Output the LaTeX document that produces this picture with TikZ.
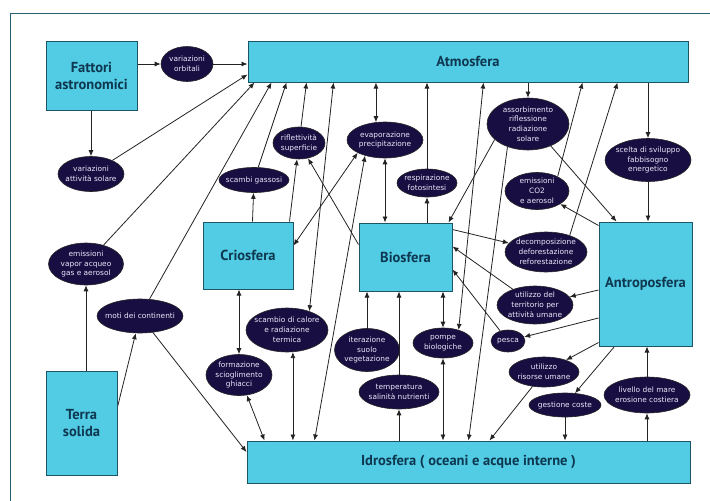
\documentclass[tikz,border=0pt]{standalone}
\usepackage{fontspec}
\setmainfont{PT Sans}
\newfontfamily\ellfont{DejaVu Sans}
\usetikzlibrary{shapes.geometric,arrows.meta,backgrounds}
\definecolor{boxfill}{RGB}{82,204,228}
\definecolor{boxline}{RGB}{30,85,100}
\definecolor{boxtext}{RGB}{14,55,80}
\definecolor{ellfill}{RGB}{24,14,66}
\definecolor{elltext}{RGB}{235,232,250}
\definecolor{conn}{RGB}{35,35,35}
\definecolor{framecol}{RGB}{40,95,110}
\tikzset{
 sphere/.style={draw=boxline, line width=1pt, fill=boxfill, inner sep=0pt, text=boxtext,
   font=\fontsize{14.5}{17}\selectfont\bfseries, align=center},
 proc/.style={ellipse, draw=black!85, line width=0.6pt, fill=ellfill, inner sep=0pt},
 proctext/.style={text=elltext, font=\ellfont\fontsize{7.4}{9.8}\selectfont, align=center, inner sep=0pt},
 link/.style={draw=conn, line width=0.8pt, -{Latex[length=6pt,width=5pt]}},
 link2/.style={draw=conn, line width=0.8pt, {Latex[length=6pt,width=5pt]}-{Latex[length=6pt,width=5pt]}},
}
\begin{document}
\begin{tikzpicture}[x=1pt,y=-1pt]
\useasboundingbox (0,0) rectangle (710,501);
% spheres
\node[sphere, minimum width=91pt, minimum height=69pt] (fa) at (91.5,75.5) {Fattori\\astronomici};
\node[sphere, minimum width=440pt, minimum height=41pt] (atm) at (468,61.5) {Atmosfera};
\node[sphere, minimum width=90pt, minimum height=67pt] (crio) at (248,255.5) {Criosfera};
\node[sphere, minimum width=93pt, minimum height=68pt] (bio) at (405.5,257) {Biosfera};
\node[sphere, minimum width=93pt, minimum height=124pt] (antro) at (645.5,284) {Antroposfera};
\node[sphere, minimum width=71pt, minimum height=104pt] (terra) at (81.5,423) {Terra\\solida};
\node[sphere, minimum width=443pt, minimum height=42pt] (idro) at (468.5,462) {Idrosfera ( oceani e acque interne )};
% processes
\node[proc, minimum width=52pt, minimum height=35pt] (orb) at (187,64) {};
\node[proctext] (orb-t) at (orb) {variazioni\\orbitali};
\node[proc, minimum width=66pt, minimum height=35pt] (sol) at (91,174) {};
\node[proctext] (sol-t) at (sol) {variazioni\\attività solare};
\node[proc, minimum width=52pt, minimum height=32pt] (rifl) at (299,143) {};
\node[proctext] (rifl-t) at (rifl) {riflettività\\superficie};
\node[proc, minimum width=70pt, minimum height=25pt] (gas) at (254,180) {};
\node[proctext] (gas-t) at (gas) {scambi gassosi};
\node[proc, minimum width=76pt, minimum height=36pt] (evap) at (385,140) {};
\node[proctext] (evap-t) at (evap) {evaporazione\\precipitazione};
\node[proc, minimum width=60pt, minimum height=28pt] (resp) at (427,183) {};
\node[proctext] (resp-t) at (resp) {respirazione\\fotosintesi};
\node[proc, minimum width=82pt, minimum height=52pt] (ass) at (528,124) {};
\node[proctext] (ass-t) at (ass) {assorbimento\\riflessione\\radiazione\\solare};
\node[proc, minimum width=86pt, minimum height=43pt] (scelta) at (648,160) {};
\node[proctext] (scelta-t) at (scelta) {scelta di sviluppo\\fabbisogno\\energetico};
\node[proc, minimum width=64pt, minimum height=37pt] (co2) at (537,191) {};
\node[proctext] (co2-t) at (co2) {emissioni\\CO2\\e aerosol};
\node[proc, minimum width=82pt, minimum height=40pt] (dec) at (546,252) {};
\node[proctext] (dec-t) at (dec) {decomposizione\\deforestazione\\reforestazione};
\node[proc, minimum width=76pt, minimum height=38pt] (terr) at (535,305) {};
\node[proctext] (terr-t) at (terr) {utilizzo del\\territorio per\\attività umane};
\node[proc, minimum width=34pt, minimum height=22pt] (pesca) at (508,341) {};
\node[proctext] (pesca-t) at (pesca) {pesca};
\node[proc, minimum width=70pt, minimum height=30pt] (ris) at (544,372) {};
\node[proctext] (ris-t) at (ris) {utilizzo\\risorse umane};
\node[proc, minimum width=72pt, minimum height=24pt] (coste) at (565,405) {};
\node[proctext] (coste-t) at (coste) {gestione coste};
\node[proc, minimum width=86pt, minimum height=36pt] (mare) at (647,395) {};
\node[proctext] (mare-t) at (mare) {livello del mare\\erosione costiera};
\node[proc, minimum width=60pt, minimum height=30pt] (pompe) at (443,343) {};
\node[proctext] (pompe-t) at (pompe) {pompe\\biologiche};
\node[proc, minimum width=80pt, minimum height=34pt] (temp) at (399,392) {};
\node[proctext] (temp-t) at (temp) {temperatura\\salinità nutrienti};
\node[proc, minimum width=65pt, minimum height=43pt] (iter) at (367,350) {};
\node[proctext] (iter-t) at (iter) {iterazione\\suolo\\vegetazione};
\node[proc, minimum width=82pt, minimum height=44pt] (calore) at (287,330) {};
\node[proctext] (calore-t) at (calore) {scambio di calore\\e radiazione\\termica};
\node[proc, minimum width=66pt, minimum height=41pt] (ghiac) at (239,375) {};
\node[proctext] (ghiac-t) at (ghiac) {formazione\\scioglimento\\ghiacci};
\node[proc, minimum width=86pt, minimum height=34pt] (moti) at (140,316) {};
\node[proctext] (moti-t) at (moti) {moti dei continenti};
\node[proc, minimum width=75pt, minimum height=42pt] (vap) at (86,264) {};
\node[proctext] (vap-t) at (vap) {emissioni\\vapor acqueo\\gas e aerosol};
\begin{pgfonlayer}{background}
\fill[white] (0,0) rectangle (710,501);
\draw[framecol, line width=0.8pt] (10.5,501) -- (10.5,13) -- (710,13);
% astronomical
\draw[link] (fa.east |- orb) -- (orb);
\draw[link] (orb) -- (atm.west |- orb);
\draw[link] (fa.south -| sol) -- (sol);
\draw[link] (sol) -- ([yshift=8pt]atm.south west);
% into atmosphere
\draw[link] (vap) -- ([xshift=7pt]atm.south west);
\draw[link] (moti) -- ([xshift=24pt]atm.south west);
\draw[link] (gas) -- ([xshift=39pt]atm.south west);
\draw[link] (rifl) -- ([xshift=59pt]atm.south west);
\draw[link2] ([xshift=86pt]atm.south west) -- (calore.40);
\draw[link2] (evap.117) -- (evap.117 |- atm.south);
\draw[link] (resp.north) -- (resp.north |- atm.south);
\draw[link2] ([xshift=236pt]atm.south west) -- (pompe.40);
\draw[link] (ass.north |- atm.south) -- (ass.north);
\draw[link] (co2.35) -- ([xshift=335pt]atm.south west);
\draw[link] (dec.35) -- ([xshift=370pt]atm.south west);
\draw[link] (scelta.north |- atm.south) -- (scelta.north);
\draw[link] (scelta.south) -- (scelta.south |- antro.north);
% solid earth
\draw[link] (terra.north -| vap) -- (vap);
\draw[link] ([yshift=16pt]terra.east) -- (moti);
\draw[link] (moti) -- ([yshift=10pt]idro.west);
% cryosphere
\draw[link] ([xshift=50pt]crio.north west) -- (gas);
\draw[link] ([xshift=87pt]crio.north west) -- (rifl);
\draw[link2] (evap.205) -- ([yshift=10pt]crio.east);
\draw[link2] (ghiac.north |- crio.south) -- (ghiac.north);
\draw[link2] (ghiac) -- ([xshift=18pt]idro.north west);
\draw[link2] (calore.285) -- (calore.285 |- idro.north);
% biosphere
\draw[link] ([yshift=-22pt]bio.north west) -- (rifl);
\draw[link2] (evap.218) -- ([xshift=68pt]idro.north west);
\draw[link2] (evap.south) -- (evap.south |- bio.north);
\draw[link] (resp.south |- bio.north) -- (resp.south);
\draw[link] (ass.205) -- ([xshift=-4pt]bio.north east);
\draw[link] (ass.228) -- ([xshift=222pt]idro.north west);
\draw[link] ([yshift=-7pt]bio.north east) -- (dec);
\draw[link] (terr) -- ([yshift=-24pt]bio.north east);
\draw[link] (pesca) -- ([yshift=-47pt]bio.north east);
\draw[link2] (pompe.north |- bio.south) -- (pompe.north);
\draw[link2] (pompe.south) -- (pompe.south |- idro.north);
\draw[link] (temp.south |- idro.north) -- (temp.south);
\draw[link] (temp.north) -- (temp.north |- bio.south);
\draw[link] (iter.north) -- (iter.north |- bio.south);
% anthroposphere
\draw[link] (ass.316) -- ([xshift=18pt]antro.north west);
\draw[link] ([yshift=-4pt]antro.north west) -- (co2);
\draw[link] ([yshift=-6pt]antro.west) -- (terr);
\draw[link] ([yshift=-34pt]antro.west) -- (pesca);
\draw[link] ([yshift=4pt]antro.south west) -- (ris);
\draw[link] ([xshift=16pt]antro.south west) -- (coste);
\draw[link] (mare.north) -- (mare.north |- antro.south);
\draw[link] (mare.south |- idro.north) -- (mare.south);
\draw[link] (coste.south) -- (coste.south |- idro.north);
\draw[link] (ris) -- ([xshift=243pt]idro.north west);
\end{pgfonlayer}
\end{tikzpicture}
\end{document}
